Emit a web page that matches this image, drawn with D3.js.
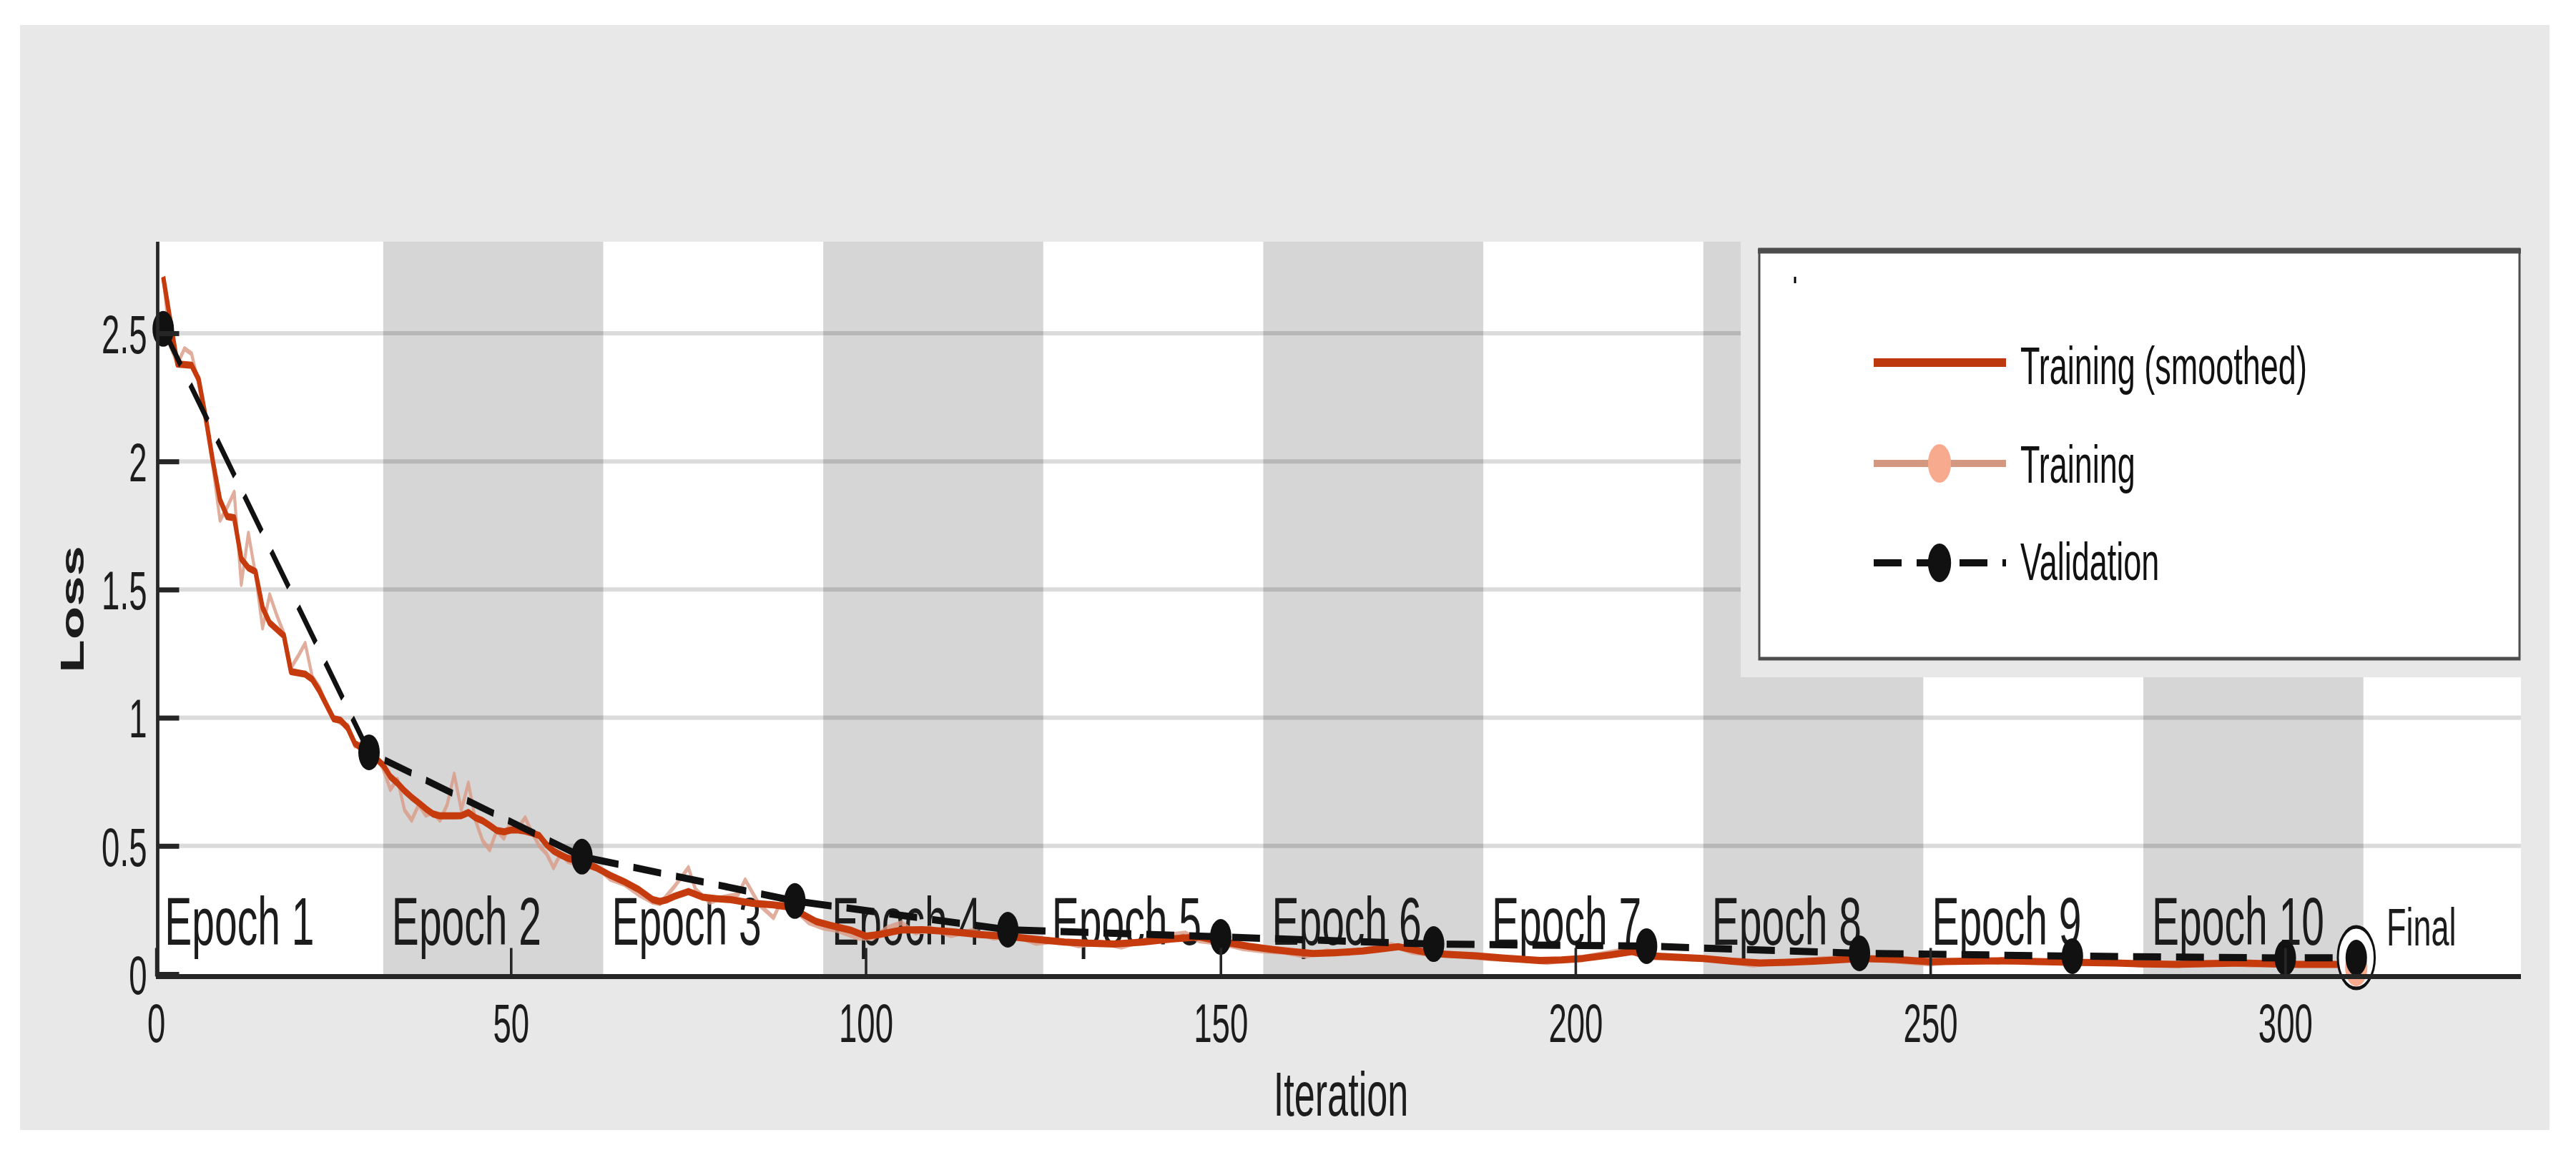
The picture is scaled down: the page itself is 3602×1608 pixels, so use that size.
<!DOCTYPE html>
<html>
<head>
<meta charset="utf-8">
<script src="https://cdn.jsdelivr.net/npm/d3@7"></script>
<style>
html,body{margin:0;padding:0;background:#ffffff;}
svg{display:block;}
text{font-family:"Liberation Sans",Arial,Helvetica,sans-serif;}
</style>
</head>
<body>
<svg id="chart" width="3602" height="1608"></svg>
<script>
// ---------------- data ----------------
const epochLabels = ["Epoch 1","Epoch 2","Epoch 3","Epoch 4","Epoch 5","Epoch 6","Epoch 7","Epoch 8","Epoch 9","Epoch 10"];
const epochStarts = [0,32,63,94,125,156,187,218,249,280];
const epochEnds   = [32,63,94,125,156,187,218,249,280,311];
const shadedEpochs = [1,3,5,7,9]; // zero-based indices: epochs 2,4,6,8,10

const yTicks = [0,0.5,1,1.5,2,2.5];
const yTickLabels = ["0","0.5","1","1.5","2","2.5"];
const xTicks = [0,50,100,150,200,250,300];
const xTickLabels = ["0","50","100","150","200","250","300"];

const smoothIter = [1,3,5,6,7,8,9,10,11,12,13,14,15,16,17,18,19,20,21,22,23,24,25,26,27,28,29,30,31,32,33,34,35,36,37,38,39,40,41,42,43,44,45,46,47,48,49,50,51,52,53,54,55,56,57,58,59,60,62,64,66,68,70,71,72,73,75,77,79,81,84,87,89,91,93,95,98,100,102,105,108,112,116,120,124,128,132,135,139,143,147,150,154,157,160,163,166,170,173,175,178,180,183,186,190,195,198,201,205,208,210,214,218,222,226,230,235,240,245,250,255,260,265,270,276,280,285,290,294,298,302,306,310];
const smoothLoss = [2.72,2.38,2.375,2.32,2.17,2.0,1.85,1.785,1.78,1.62,1.585,1.57,1.43,1.37,1.345,1.32,1.18,1.175,1.17,1.15,1.105,1.05,0.996,0.99,0.96,0.9,0.88,0.865,0.84,0.815,0.77,0.745,0.715,0.69,0.668,0.645,0.625,0.617,0.617,0.617,0.618,0.63,0.61,0.598,0.58,0.56,0.555,0.562,0.562,0.558,0.55,0.54,0.505,0.48,0.465,0.452,0.445,0.435,0.415,0.385,0.36,0.33,0.29,0.283,0.29,0.303,0.322,0.30,0.294,0.29,0.276,0.27,0.262,0.235,0.205,0.19,0.17,0.148,0.155,0.172,0.173,0.165,0.154,0.147,0.135,0.125,0.12,0.117,0.125,0.137,0.145,0.127,0.108,0.097,0.088,0.08,0.083,0.09,0.1,0.107,0.09,0.08,0.075,0.071,0.062,0.053,0.055,0.061,0.075,0.088,0.072,0.066,0.061,0.05,0.043,0.046,0.052,0.061,0.057,0.048,0.05,0.052,0.049,0.046,0.043,0.04,0.038,0.041,0.043,0.04,0.038,0.038,0.038];

const rawIter = [1,2,3,4,5,6,7,8,9,10,11,12,13,14,15,16,17,18,19,20,21,22,23,24,25,26,27,28,29,30,31,32,33,34,35,36,37,38,39,40,41,42,43,44,45,46,47,48,49,50,51,52,53,54,55,56,57,58,59,60,62,64,66,68,70,71,73,75,76,78,80,82,83,85,87,88,90,92,94,96,99,101,103,105,107,109,112,115,118,121,124,127,130,133,136,139,142,145,147,150,153,156,159,162,165,168,171,174,177,180,184,188,192,196,200,204,207,210,215,220,225,230,235,240,245,250,255,260,265,270,275,280,285,290,295,300,305,310];
const rawLoss = [2.72,2.45,2.38,2.44,2.42,2.3,2.15,1.98,1.77,1.82,1.88,1.52,1.72,1.56,1.35,1.48,1.40,1.33,1.195,1.24,1.29,1.16,1.12,1.05,1.0,0.98,0.97,0.89,0.9,0.87,0.85,0.8,0.72,0.76,0.64,0.6,0.66,0.62,0.63,0.6,0.66,0.78,0.64,0.745,0.6,0.52,0.485,0.56,0.53,0.6,0.57,0.61,0.55,0.5,0.47,0.415,0.47,0.44,0.43,0.44,0.42,0.37,0.35,0.31,0.28,0.275,0.34,0.415,0.33,0.28,0.3,0.31,0.368,0.27,0.22,0.28,0.25,0.2,0.18,0.17,0.14,0.14,0.18,0.2,0.16,0.18,0.15,0.17,0.14,0.15,0.12,0.13,0.11,0.125,0.105,0.13,0.15,0.16,0.13,0.12,0.1,0.09,0.085,0.07,0.09,0.08,0.1,0.115,0.085,0.075,0.07,0.06,0.055,0.045,0.06,0.08,0.095,0.065,0.06,0.055,0.035,0.05,0.06,0.065,0.05,0.04,0.055,0.045,0.05,0.04,0.045,0.035,0.04,0.045,0.035,0.04,0.035,0.035];

const valIter = [1,30,60,90,120,150,180,210,240,270,300,310];
const valLoss = [2.517,0.865,0.458,0.285,0.173,0.145,0.117,0.109,0.081,0.07,0.063,0.064];

const finalIter = 310;
const finalTrainLoss = 0.025;
const finalValLoss = 0.064;
const finalLabel = "Final";

const legendLabels = ["Training (smoothed)","Training","Validation"];
const xTitle = "Iteration";
const yTitle = "Loss";

// ---------------- layout / style ----------------
const SX = 0.6;               // horizontal compression of the whole picture
const X = v => v / SX;        // screen x -> drawing x
const C = {
  fig:"#e8e8e8", band:"#d6d6d6", axis:"#262626", text:"#1c1c1c",
  smooth:"#c63b0e", raw:"#d99a84", rawMarker:"#f8aa8e", val:"#111111"
};
const FONT = '"Liberation Sans",Arial,Helvetica,sans-serif';

const svg = d3.select("#chart");
svg.append("rect").attr("x",28).attr("y",35).attr("width",3565-28).attr("height",1580-35).attr("fill",C.fig);

const g = svg.append("g").attr("transform",`scale(${SX},1)`);

const x = d3.scaleLinear().domain([0,333.2]).range([X(218.3),X(3525)]);
const y = d3.scaleLinear().domain([0,2.857]).range([1362,338]);

// plot background
g.append("rect").attr("x",X(218)).attr("y",338).attr("width",X(3525-218)).attr("height",1369-338).attr("fill","#ffffff");

// epoch bands
g.selectAll("rect.band").data(shadedEpochs).enter().append("rect").attr("class","band")
  .attr("x",i=>x(epochStarts[i])).attr("width",i=>x(epochEnds[i])-x(epochStarts[i]))
  .attr("y",338).attr("height",1362-338).attr("fill",C.band);

// grid
g.selectAll("line.grid").data(yTicks.filter(d=>d>0)).enter().append("line").attr("class","grid")
  .attr("x1",x.range()[0]).attr("x2",x.range()[1]).attr("y1",d=>y(d)).attr("y2",d=>y(d))
  .attr("stroke","rgba(0,0,0,0.14)").attr("stroke-width",6);

// epoch labels
g.selectAll("text.epoch").data(epochLabels).enter().append("text").attr("class","epoch")
  .attr("x",(d,i)=>x(epochStarts[i])+X(12)).attr("y",1321)
  .attr("font-size",95).attr("fill",C.text).text(d=>d);

// lines
const line = d3.line().x(d=>x(d[0])).y(d=>y(d[1]));
g.append("path").datum(rawIter.map((it,i)=>[it,rawLoss[i]]))
  .attr("d",line).attr("fill","none").attr("stroke",C.raw).attr("stroke-opacity",0.8)
  .attr("stroke-width",7).attr("stroke-linejoin","round");
g.append("path").datum(smoothIter.map((it,i)=>[it,smoothLoss[i]]))
  .attr("d",line).attr("fill","none").attr("stroke",C.smooth)
  .attr("stroke-width",10).attr("stroke-linejoin","round");
g.append("path").datum(valIter.map((it,i)=>[it,valLoss[i]]))
  .attr("d",line).attr("fill","none").attr("stroke",C.val)
  .attr("stroke-width",10).attr("stroke-dasharray","65,35");

// final markers
g.append("circle").attr("cx",x(finalIter)).attr("cy",y(finalValLoss)).attr("r",43)
  .attr("fill","#ffffff").attr("stroke",C.val).attr("stroke-width",5);
g.append("circle").attr("cx",x(finalIter)).attr("cy",y(finalTrainLoss)).attr("r",26).attr("fill",C.rawMarker);

// validation markers
g.selectAll("circle.val").data(valIter).enter().append("circle").attr("class","val")
  .attr("cx",d=>x(d)).attr("cy",(d,i)=>y(valLoss[i])).attr("r",25).attr("fill",C.val);

// final label
g.append("text").attr("x",X(3337)).attr("y",1322).attr("font-size",75).attr("fill",C.text).text(finalLabel);

// axes
const yAxis = d3.axisLeft(y).tickValues(yTicks).tickFormat((d,i)=>yTickLabels[i])
  .tickSize(-X(30)).tickSizeOuter(0).tickPadding(X(15));
const ya = g.append("g").attr("transform",`translate(${X(220.5)},0)`).call(yAxis);
ya.select(".domain").remove();
ya.selectAll(".tick line").attr("stroke",C.axis).attr("stroke-width",7);
ya.selectAll(".tick text").attr("font-size",76).attr("font-family",FONT).attr("fill",C.text).attr("dy","0.36em");

const xAxis = d3.axisBottom(x).tickValues(xTicks).tickFormat((d,i)=>xTickLabels[i])
  .tickSize(-40).tickSizeOuter(0).tickPadding(38);
const xa = g.append("g").attr("transform","translate(0,1365.5)").call(xAxis);
xa.select(".domain").remove();
xa.selectAll(".tick line").attr("stroke",C.axis).attr("stroke-width",6);
xa.selectAll(".tick text").attr("font-size",76).attr("font-family",FONT).attr("fill",C.text);

g.append("line").attr("x1",X(220.5)).attr("x2",X(220.5)).attr("y1",338).attr("y2",1369)
  .attr("stroke",C.axis).attr("stroke-width",8);
g.append("line").attr("x1",X(218)).attr("x2",X(3525)).attr("y1",1365.5).attr("y2",1365.5)
  .attr("stroke",C.axis).attr("stroke-width",7);

// axis titles
g.append("text").attr("x",X(1875)).attr("y",1560).attr("text-anchor","middle")
  .attr("font-size",87).attr("fill",C.text).text(xTitle);
g.append("text").attr("transform",`translate(${X(101)},852) rotate(-90)`).attr("text-anchor","middle")
  .attr("dy","0.36em").attr("font-size",76).attr("font-weight","bold").attr("fill",C.text).text(yTitle);

// legend
g.append("rect").attr("x",X(2434)).attr("y",330).attr("width",X(3545-2434)).attr("height",947-330).attr("fill",C.fig);
g.append("rect").attr("x",X(2460)).attr("y",349).attr("width",X(3523-2460)).attr("height",921-349)
  .attr("fill","#ffffff").attr("stroke","#4d4d4d").attr("stroke-width",5);
g.append("line").attr("x1",X(2458)).attr("x2",X(3525)).attr("y1",351).attr("y2",351)
  .attr("stroke","#4d4d4d").attr("stroke-width",7);
g.append("line").attr("x1",X(2510)).attr("x2",X(2510)).attr("y1",387).attr("y2",396)
  .attr("stroke","#000").attr("stroke-width",5);

const legY = [507,648,787];
const legTextY = [537,675,811];
const lx1 = X(2620), lx2 = X(2805), lmid = X(2712);
g.append("line").attr("x1",lx1).attr("x2",lx2).attr("y1",legY[0]).attr("y2",legY[0])
  .attr("stroke","#bd380c").attr("stroke-width",12);
g.append("line").attr("x1",lx1).attr("x2",lx2).attr("y1",legY[1]).attr("y2",legY[1])
  .attr("stroke","#d4977f").attr("stroke-width",10);
g.append("circle").attr("cx",lmid).attr("cy",legY[1]).attr("r",27).attr("fill",C.rawMarker);
g.append("line").attr("x1",lx1).attr("x2",lx2).attr("y1",legY[2]).attr("y2",legY[2])
  .attr("stroke",C.val).attr("stroke-width",10).attr("stroke-dasharray","65,35");
g.append("circle").attr("cx",lmid).attr("cy",legY[2]).attr("r",27).attr("fill",C.val);
g.selectAll("text.leg").data(legendLabels).enter().append("text").attr("class","leg")
  .attr("x",X(2825)).attr("y",(d,i)=>legTextY[i]).attr("font-size",75).attr("fill","#111").text(d=>d);
</script>
</body>
</html>
